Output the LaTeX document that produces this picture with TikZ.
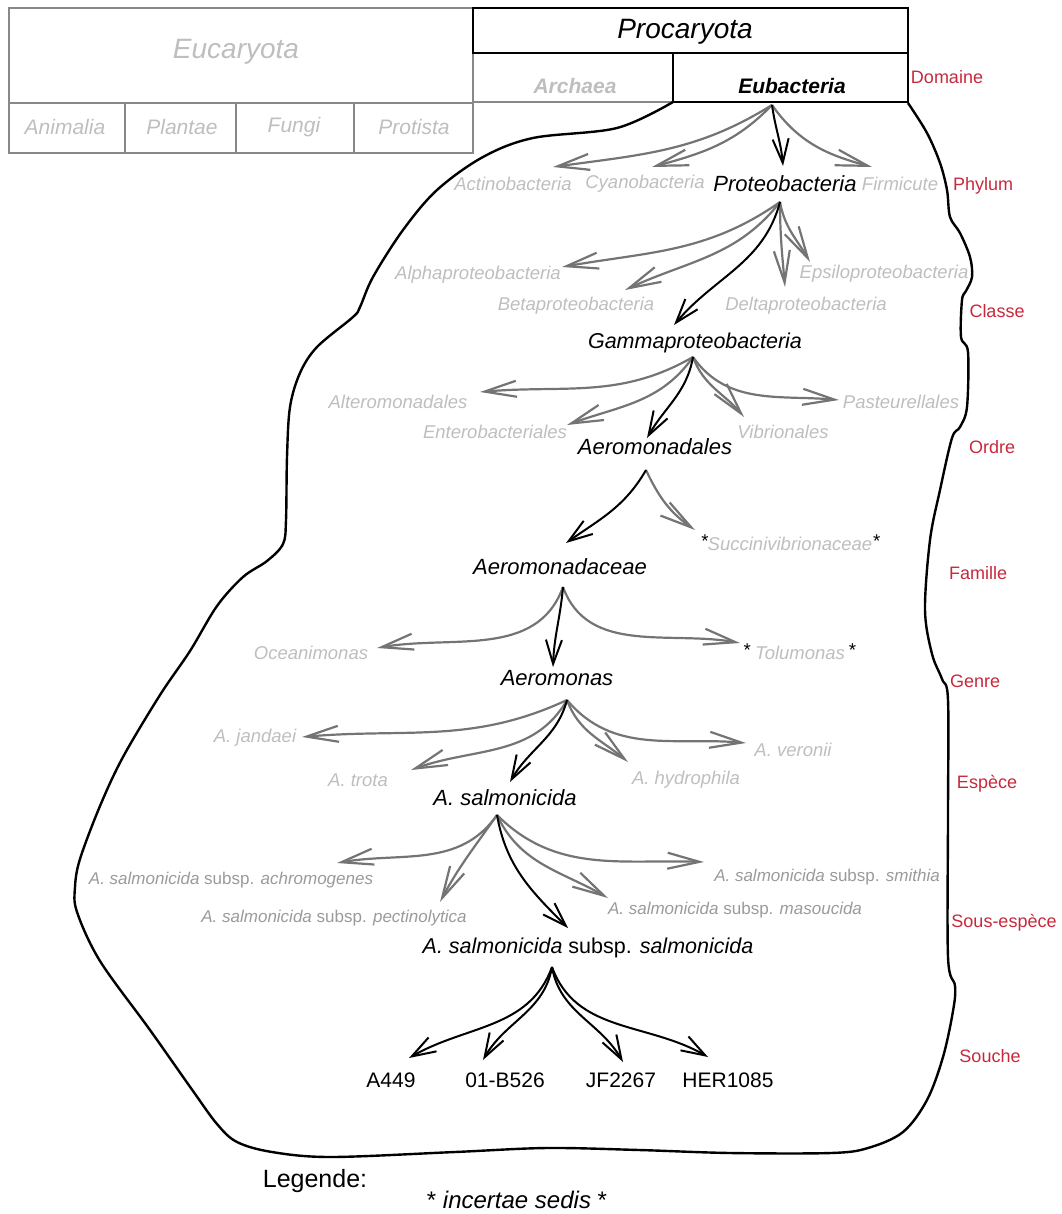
\documentclass[tikz,border=0pt]{standalone}
\usepackage{fontspec}
\setmainfont{Liberation Sans}
\usetikzlibrary{arrows.meta}
\definecolor{txtgray}{HTML}{BEBEBE}
\definecolor{subgray}{HTML}{9A9A9A}
\definecolor{arrgray}{HTML}{747474}
\definecolor{boxgray}{HTML}{888888}
\definecolor{rankred}{HTML}{C8283C}
\newcommand{\sedismark}{\textcolor{black}{\raisebox{0.35ex}{*}}}
\newcommand{\salm}{\textit{A. salmonicida} subsp.}

\begin{document}
\begin{tikzpicture}[x=1pt, y=1pt,
  rank/.style={text=rankred, font=\fontsize{18}{20}\selectfont, inner sep=0pt},
  minor/.style={text=txtgray, font=\itshape\fontsize{18.5}{20}\selectfont, inner sep=0pt},
  major/.style={text=black, font=\itshape\fontsize{22}{24}\selectfont, inner sep=0pt},
  headname/.style={font=\itshape\fontsize{28}{30}\selectfont, inner sep=0pt},
  kingdom/.style={text=txtgray, font=\itshape\fontsize{21}{23}\selectfont, inner sep=0pt},
  domname/.style={font=\bfseries\itshape\fontsize{21}{23}\selectfont, inner sep=0pt},
  subsp/.style={text=subgray, font=\fontsize{17}{19}\selectfont, inner sep=0pt},
  strain/.style={font=\fontsize{21}{23}\selectfont, inner sep=0pt},
  gline/.style={draw=arrgray, line width=2.2pt, -{Straight Barb[length=32pt,width=16pt]}},
  bline/.style={draw=black, line width=2pt, -{Straight Barb[length=24pt,width=16pt]}},
  boxline/.style={line width=2pt}
]
\useasboundingbox (0,0) rectangle (1061,-1214);

\draw[boxline, boxgray] (9,-8) rectangle (473,-153);
\draw[boxline, boxgray] (9,-103) -- (473,-103);
\foreach \x in {125,236,354} \draw[boxline, boxgray] (\x,-103) -- (\x,-153);
\draw[boxline, boxgray] (473,-53) rectangle (673,-102);
\draw[boxline] (473,-8) rectangle (908,-53);
\draw[boxline] (673,-53) rectangle (908,-102);

\node[headname, text=txtgray] (euc) at (236,-52) {Eucaryota};
\node[kingdom] (anim) at (65,-127) {Animalia};
\node[kingdom] (plan) at (182,-127) {Plantae};
\node[kingdom] (fung) at (294,-127) {Fungi};
\node[kingdom] (prot) at (414,-127) {Protista};
\node[headname] (proc) at (685,-32) {Procaryota};
\node[domname, text=txtgray] (arch) at (575,-86) {Archaea};
\node[domname] (eub) at (792,-86) {Eubacteria};

\draw[line width=2.4pt] plot[smooth, tension=0.55] coordinates {
  (908,-103) (927,-133) (940,-163) (947,-190) (950,-217) (960,-233) (970,-257)
  (972,-277) (966,-291) (962,-300) (961,-337) (968,-352) (967,-407) (960,-427)
  (952,-438) (940,-490) (930,-540) (925,-610) (932,-654) (942,-679) (948,-700)
  (948,-814) (948,-957) (955,-986) (953,-1011) (943,-1057) (927,-1100)
  (903,-1132) (868,-1148) (831,-1153) (730,-1153) (639,-1150) (547,-1148)
  (455,-1152) (331,-1157) (272,-1152) (237,-1142) (217,-1124) (193,-1091)
  (150,-1030) (100,-961) (77,-912) (75,-887) (80,-859) (100,-806) (123,-757)
  (160,-695) (190,-651) (217,-606) (243,-577) (267,-561) (283,-544) (286,-520)
  (287,-457) (290,-407) (300,-373) (317,-347) (353,-317) (360,-307) (373,-277)
  (403,-230) (437,-190) (483,-157) (533,-138) (617,-128) (673,-102)};

\node[rank] (r-dom) at (947,-77) {Domaine};
\node[rank] (r-phy) at (983,-186) {Phylum};
\node[rank] (r-cla) at (997,-311) {Classe};
\node[rank] (r-ord) at (992,-447) {Ordre};
\node[rank] (r-fam) at (978,-573) {Famille};
\node[rank] (r-gen) at (975,-681) {Genre};
\node[rank] (r-esp) at (987,-784) {Espèce};
\node[rank] (r-sse) at (1004,-923) {Sous-espèce};
\node[rank] (r-sou) at (990,-1056) {Souche};

\node[minor] (actino) at (513,-184) {Actinobacteria};
\node[minor] (cyano) at (645,-184) {Cyanobacteria};
\node[major] (proteo) at (785,-184) {Proteobacteria};
\node[minor] (firmi) at (900,-184) {Firmicute};

\node[minor] (alpha) at (478,-275) {Alphaproteobacteria};
\node[minor] (beta) at (576,-306) {Betaproteobacteria};
\node[minor] (delta) at (806,-306) {Deltaproteobacteria};
\node[minor] (epsi) at (884,-274) {Epsiloproteobacteria};
\node[major, font=\itshape\fontsize{21.5}{23}\selectfont] (gamma) at (695,-343) {Gammaproteobacteria};

\node[minor] (altero) at (398,-402) {Alteromonadales};
\node[minor] (entero) at (495,-432) {Enterobacteriales};
\node[major] (aeroles) at (655,-447) {Aeromonadales};
\node[minor] (vibrio) at (783,-432) {Vibrionales};
\node[minor] (paste) at (901,-402) {Pasteurellales};

\node[major] (aerocea) at (560,-567) {Aeromonadaceae};
\node[minor] (succi) at (790,-543) {\sedismark Succinivibrionaceae\sedismark};

\node[minor] (ocean) at (311,-653) {Oceanimonas};
\node[major] (aeromo) at (557,-678) {Aeromonas};
\node[minor] (tolu) at (799,-652) {\sedismark\ Tolumonas\,\sedismark};

\node[minor] (jand) at (255,-738) {A. jandaei};
\node[minor] (trota) at (358,-780) {A. trota};
\node[major] (salmo) at (505,-798) {A. salmonicida};
\node[minor] (hydro) at (686,-780) {A. hydrophila};
\node[minor] (veron) at (793,-750) {A. veronii};

\node[subsp] (achro) at (231,-880) {\salm{} \textit{achromogenes}};
\node[subsp] (pecti) at (334,-918) {\salm{} \textit{pectinolytica}};
\node[strain, font=\fontsize{21.5}{23}\selectfont] (sss) at (588,-948) {\salm{} \textit{salmonicida}};
\node[subsp] (masou) at (735,-910) {\salm{} \textit{masoucida}};
\node[subsp] (smith) at (827,-877) {\salm{} \textit{smithia}};

\node[strain] (a449) at (391,-1080) {A449};
\node[strain] (b526) at (505,-1080) {01-B526};
\node[strain] (jf) at (621,-1080) {JF2267};
\node[strain] (her) at (728,-1080) {HER1085};

\node[strain, font=\fontsize{25}{27}\selectfont] (leg) at (315,-1181) {Legende:};
\node[strain, font=\fontsize{24}{26}\selectfont] (sedis) at (517,-1200) {* \textit{incertae sedis} *};

\coordinate (eub-out) at (772,-105);
\coordinate (actino-in) at (553,-167);
\coordinate (cyano-in) at (652,-167);
\coordinate (proteo-in) at (783,-166);
\coordinate (firmi-in) at (872,-167);
\draw[gline] (eub-out) to[out=212,in=8] (actino-in);
\draw[gline] (eub-out) to[out=226,in=15] (cyano-in);
\draw[gline] (eub-out) to[out=-55,in=165] (firmi-in);
\draw[bline] (eub-out) to[out=-82,in=95] (proteo-in);

\coordinate (proteo-out) at (780,-202);
\coordinate (alpha-in) at (562,-267);
\coordinate (beta-in) at (625,-290);
\coordinate (gamma-in) at (674,-325);
\coordinate (delta-in) at (785,-287);
\coordinate (epsi-in) at (810,-262);
\draw[gline] (proteo-out) to[out=215,in=10] (alpha-in);
\draw[gline] (proteo-out) to[out=232,in=25] (beta-in);
\draw[gline] (proteo-out) to[out=-90,in=95] (delta-in);
\draw[gline] (proteo-out) to[out=-80,in=120] (epsi-in);
\draw[bline] (proteo-out) to[out=255,in=50] (gamma-in);

\coordinate (gamma-out) at (693,-357);
\coordinate (altero-in) at (480,-392);
\coordinate (entero-in) at (567,-425);
\coordinate (aeroles-in) at (647,-438);
\coordinate (vibrio-in) at (744,-417);
\coordinate (paste-in) at (839,-400);
\draw[gline] (gamma-out) to[out=210,in=5] (altero-in);
\draw[gline] (gamma-out) to[out=235,in=20] (entero-in);
\draw[gline] (gamma-out) to[out=-70,in=130] (vibrio-in);
\draw[gline] (gamma-out) to[out=-55,in=175] (paste-in);
\draw[bline] (gamma-out) to[out=260,in=60] (aeroles-in);

\coordinate (aeroles-out) at (646,-470);
\coordinate (aerocea-in) at (566,-543);
\coordinate (succi-in) at (695,-530);
\draw[gline] (aeroles-out) to[out=-65,in=145] (succi-in);
\draw[bline] (aeroles-out) to[out=240,in=35] (aerocea-in);

\coordinate (aerocea-out) at (563,-587);
\coordinate (ocean-in) at (377,-648);
\coordinate (aeromo-in) at (553,-667);
\coordinate (tolu-in) at (740,-643);
\draw[gline] (aerocea-out) to[out=250,in=10] (ocean-in);
\draw[gline] (aerocea-out) to[out=-70,in=170] (tolu-in);
\draw[bline] (aerocea-out) to[out=-95,in=88] (aeromo-in);

\coordinate (aeromo-out) at (567,-700);
\coordinate (jand-in) at (302,-737);
\coordinate (trota-in) at (411,-770);
\coordinate (salmo-in) at (510,-782);
\coordinate (hydro-in) at (628,-762);
\coordinate (veron-in) at (746,-743);
\draw[gline] (aeromo-out) to[out=205,in=5] (jand-in);
\draw[gline] (aeromo-out) to[out=240,in=20] (trota-in);
\draw[gline] (aeromo-out) to[out=-70,in=140] (hydro-in);
\draw[gline] (aeromo-out) to[out=-50,in=175] (veron-in);
\draw[bline] (aeromo-out) to[out=255,in=60] (salmo-in);

\coordinate (salmo-out) at (497,-815);
\coordinate (achro-in) at (337,-863);
\coordinate (pecti-in) at (440,-902);
\coordinate (sss-in) at (568,-928);
\coordinate (masou-in) at (608,-898);
\coordinate (smith-in) at (704,-862);
\draw[gline] (salmo-out) to[out=235,in=10] (achro-in);
\draw[gline] (salmo-out) to[out=235,in=62] (pecti-in);
\draw[gline] (salmo-out) to[out=-65,in=150] (masou-in);
\draw[gline] (salmo-out) to[out=-45,in=178] (smith-in);
\draw[bline] (salmo-out) to[out=-80,in=135] (sss-in);

\coordinate (sss-out) at (552,-967);
\coordinate (a449-in) at (409,-1058);
\coordinate (b526-in) at (483,-1060);
\coordinate (jf-in) at (623,-1062);
\coordinate (her-in) at (708,-1057);
\draw[bline] (sss-out) to[out=250,in=30] (a449-in);
\draw[bline] (sss-out) to[out=260,in=60] (b526-in);
\draw[bline] (sss-out) to[out=-80,in=120] (jf-in);
\draw[bline] (sss-out) to[out=-70,in=150] (her-in);
\end{tikzpicture}
\end{document}
